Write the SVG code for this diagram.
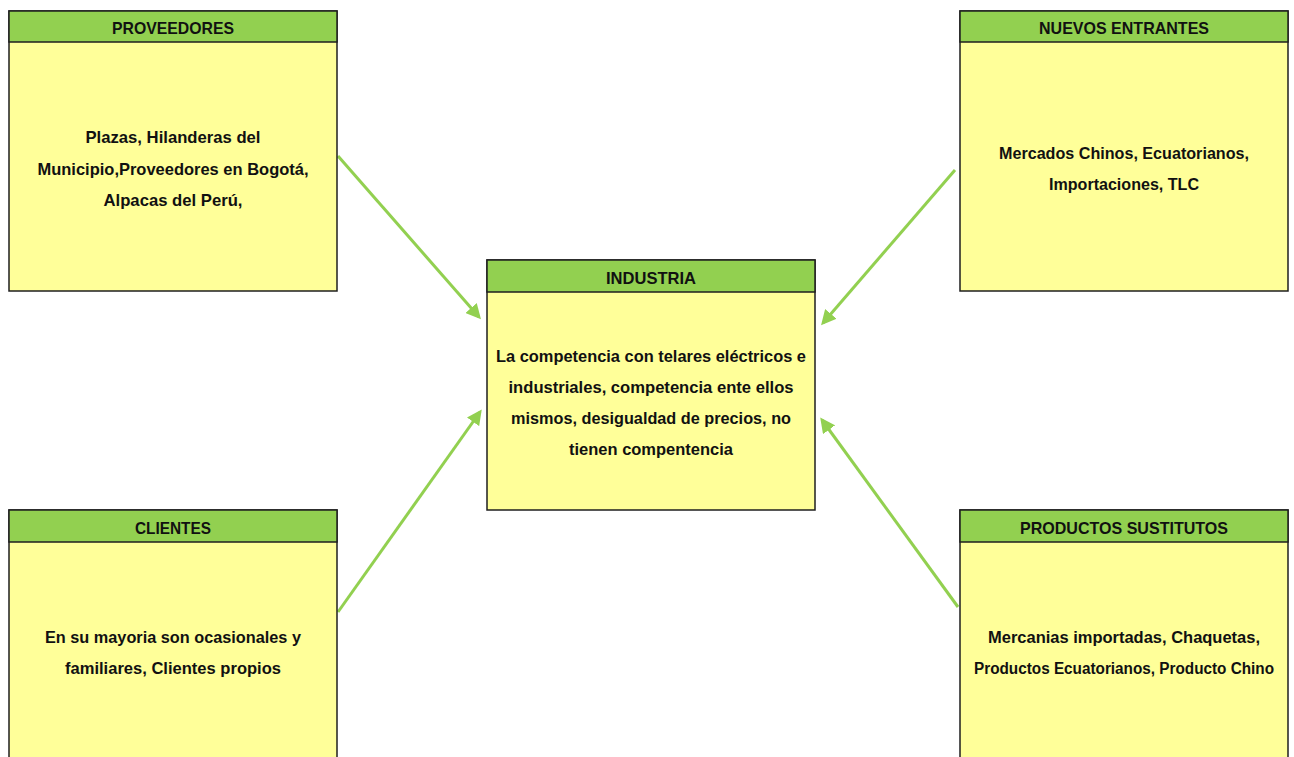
<svg xmlns="http://www.w3.org/2000/svg" width="1294" height="757" viewBox="0 0 1294 757">
<style>
.body{fill:#FFFF99;stroke:#1f1f1f;stroke-width:1.5}
.head{fill:#92D050;stroke:#1f1f1f;stroke-width:1.5}
.ht{font-family:"Liberation Sans",Arial,sans-serif;font-weight:bold;font-size:16.5px;fill:#111;text-anchor:middle}
.bt{font-family:"Liberation Sans",Arial,sans-serif;font-weight:bold;font-size:17px;fill:#111;text-anchor:middle}
.conn{stroke:#92D050;stroke-width:3;fill:none;marker-end:url(#ah)}
</style>
<defs>
<marker id="ah" markerWidth="5" markerHeight="5" refX="4" refY="2.5" orient="auto" markerUnits="strokeWidth">
<path d="M0,0 L5,2.5 L0,5 Z" fill="#92D050"/>
</marker>
</defs>
<rect width="1294" height="757" fill="#ffffff"/>
<g id="connectors">
<line class="conn" x1="338" y1="156" x2="479" y2="317"/>
<line class="conn" x1="955" y1="170" x2="823" y2="323"/>
<line class="conn" x1="338" y1="612" x2="480" y2="412"/>
<line class="conn" x1="958" y1="607" x2="822" y2="420"/>
</g>
<g id="proveedores">
<rect class="body" x="9" y="11" width="328" height="280"/>
<rect class="head" x="9" y="11" width="328" height="31"/>
<text class="ht" x="173" y="34" textLength="122" lengthAdjust="spacingAndGlyphs">PROVEEDORES</text>
<text class="bt" x="173" y="143" textLength="175" lengthAdjust="spacingAndGlyphs">Plazas, Hilanderas del</text>
<text class="bt" x="173" y="175" textLength="271" lengthAdjust="spacingAndGlyphs">Municipio,Proveedores en Bogotá,</text>
<text class="bt" x="173" y="206" textLength="139" lengthAdjust="spacingAndGlyphs">Alpacas del Perú,</text>
</g>
<g id="nuevos-entrantes">
<rect class="body" x="960" y="11" width="328" height="280"/>
<rect class="head" x="960" y="11" width="328" height="31"/>
<text class="ht" x="1124" y="34" textLength="170" lengthAdjust="spacingAndGlyphs">NUEVOS ENTRANTES</text>
<text class="bt" x="1124" y="159" textLength="250" lengthAdjust="spacingAndGlyphs">Mercados Chinos, Ecuatorianos,</text>
<text class="bt" x="1124" y="190" textLength="150" lengthAdjust="spacingAndGlyphs">Importaciones, TLC</text>
</g>
<g id="industria">
<rect class="body" x="487" y="260" width="328" height="250"/>
<rect class="head" x="487" y="260" width="328" height="32"/>
<text class="ht" x="651" y="284" textLength="90" lengthAdjust="spacingAndGlyphs">INDUSTRIA</text>
<text class="bt" x="651" y="362" textLength="310" lengthAdjust="spacingAndGlyphs">La competencia con telares eléctricos e</text>
<text class="bt" x="651" y="393" textLength="285" lengthAdjust="spacingAndGlyphs">industriales, competencia ente ellos</text>
<text class="bt" x="651" y="424" textLength="280" lengthAdjust="spacingAndGlyphs">mismos, desigualdad de precios, no</text>
<text class="bt" x="651" y="455" textLength="164" lengthAdjust="spacingAndGlyphs">tienen compentencia</text>
</g>
<g id="clientes">
<rect class="body" x="9" y="510" width="328" height="250"/>
<rect class="head" x="9" y="510" width="328" height="32"/>
<text class="ht" x="173" y="534" textLength="76" lengthAdjust="spacingAndGlyphs">CLIENTES</text>
<text class="bt" x="173" y="643" textLength="256" lengthAdjust="spacingAndGlyphs">En su mayoria son ocasionales y</text>
<text class="bt" x="173" y="674" textLength="216" lengthAdjust="spacingAndGlyphs">familiares, Clientes propios</text>
</g>
<g id="productos-sustitutos">
<rect class="body" x="960" y="510" width="328" height="250"/>
<rect class="head" x="960" y="510" width="328" height="32"/>
<text class="ht" x="1124" y="534" textLength="208" lengthAdjust="spacingAndGlyphs">PRODUCTOS SUSTITUTOS</text>
<text class="bt" x="1124" y="643" textLength="272" lengthAdjust="spacingAndGlyphs">Mercanias importadas, Chaquetas,</text>
<text class="bt" x="1124" y="674" textLength="300" lengthAdjust="spacingAndGlyphs" style="font-size:16px">Productos Ecuatorianos, Producto Chino</text>
</g>
</svg>
